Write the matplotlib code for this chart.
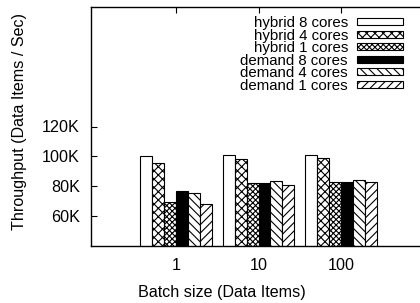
import matplotlib
matplotlib.use('Agg')
import matplotlib.pyplot as plt
from matplotlib.patches import Rectangle
import numpy as np

plt.rcParams['font.family'] = ['Liberation Sans', 'DejaVu Sans']
plt.rcParams['font.size'] = 11.6
plt.rcParams['hatch.linewidth'] = 0.8

batch_sizes = ['1', '10', '100']
series = ['hybrid 8 cores', 'hybrid 4 cores', 'hybrid 1 cores',
          'demand 8 cores', 'demand 4 cores', 'demand 1 cores']
values = [
    [100000, 101100, 101100],   # hybrid 8
    [95800, 98000, 98800],      # hybrid 4
    [69400, 82000, 83100],      # hybrid 1
    [76900, 82200, 82700],      # demand 8
    [75300, 83800, 84300],      # demand 4
    [68300, 80900, 82700],      # demand 1
]
yticks = [60000, 80000, 100000, 120000]
ytick_labels = ['60K', '80K', '100K', '120K']

faces = ['white', 'white', 'white', 'black', 'white', 'white']
hatches = [None, 'xxxx', 'xxxxxx', None, '\\\\\\\\', '////']

W, H = 420, 303
fig = plt.figure(figsize=(W / 100, H / 100), dpi=100)
ax = fig.add_axes([91 / W, 1 - 246 / H, 335 / W, 239 / H])

x = np.arange(len(batch_sizes))
w = 0.145
for i, name in enumerate(series):
    ax.bar(x + (i - 2.5) * w, values[i], w, color=faces[i], edgecolor='black',
           hatch=hatches[i], linewidth=0.8)

ax.set_xlim(-1.03, 3.03)
ax.set_ylim(40000, 200000)
ax.set_xticks(x)
ax.set_xticklabels(batch_sizes)
ax.set_yticks(yticks)
ax.set_yticklabels(ytick_labels)
ax.tick_params(direction='in', top=True, right=True, length=4, width=0.8)
ax.tick_params(axis='y', pad=8)
ax.tick_params(axis='x', pad=9)
for s in ax.spines.values():
    s.set_linewidth(1.0)

ax.set_xlabel('Batch size (Data Items)')
ax.set_ylabel('Throughput (Data Items / Sec)')
ax.xaxis.set_label_coords(222 / W, 1 - 292 / H, transform=fig.transFigure)
ax.yaxis.set_label_coords(20 / W, 1 - 121 / H, transform=fig.transFigure)
ax.xaxis.label.set_va('center')
ax.yaxis.label.set_va('center')

# legend drawn by hand: right-aligned text, sample box on the right
for i, name in enumerate(series):
    yc = 1 - (21.7 + 12.5 * i) / H
    fig.text(348 / W, yc, name, ha='right', va='center_baseline', fontsize=10.8)
    fig.patches.append(Rectangle((357 / W, yc - 3.5 / H), 46 / W, 7 / H,
                                 transform=fig.transFigure, facecolor=faces[i],
                                 edgecolor='black', hatch=hatches[i], linewidth=0.8))

fig.savefig('out.png', dpi=100)
